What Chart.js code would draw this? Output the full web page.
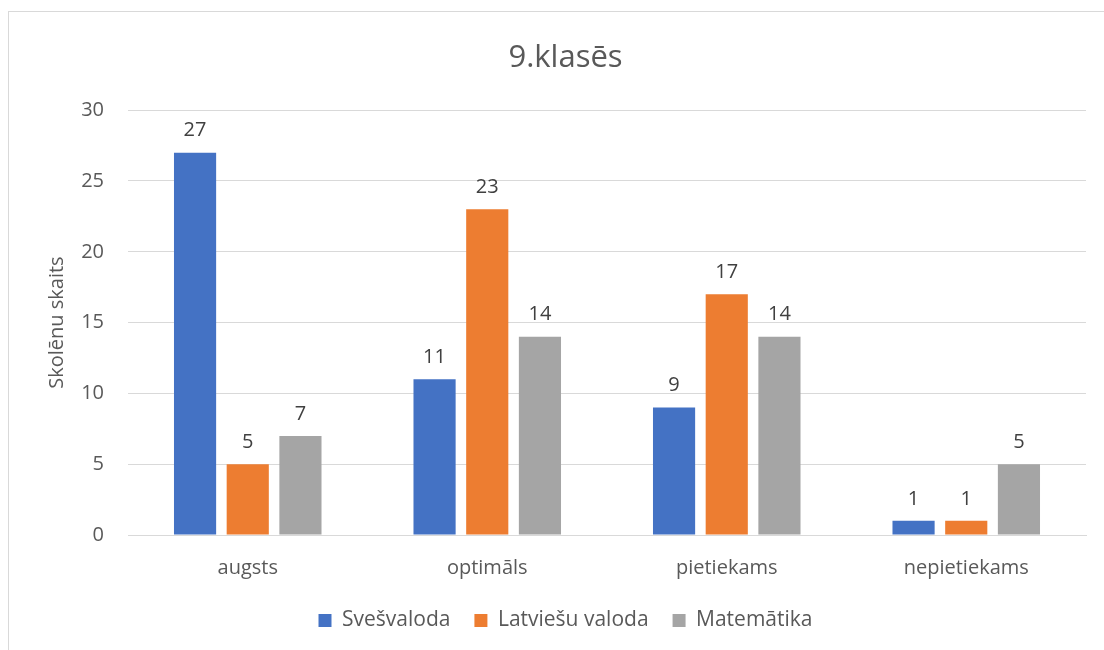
<!DOCTYPE html>
<html>
<head>
<meta charset="utf-8">
<script src="https://cdn.jsdelivr.net/npm/chart.js@4.4.1/dist/chart.umd.min.js"></script>
<style>
  html, body { margin: 0; padding: 0; background: #fff; }
  #wrap { position: relative; width: 1104px; height: 650px; }
  #frame { position: absolute; left: 8px; top: 11px; width: 1200px; height: 700px; border: 1px solid #d9d9d9; }
  canvas { position: absolute; left: 0; top: 0; }
</style>
</head>
<body>
<div id="wrap">
  <div id="frame"></div>
  <canvas id="chart" width="1104" height="650"></canvas>
</div>
<script>
const categories = ["augsts", "optimāls", "pietiekams", "nepietiekams"];
const svesvaloda = [27, 11, 9, 1];
const latviesu = [5, 23, 17, 1];
const matematika = [7, 14, 14, 5];
const yTicks = [0, 5, 10, 15, 20, 25, 30];

const fontFamily = "'Open Sans', 'Liberation Sans', sans-serif";

// value labels above bars
const valueLabels = {
  id: "valueLabels",
  afterDatasetsDraw(chart) {
    const ctx = chart.ctx;
    ctx.save();
    ctx.font = "20px " + fontFamily;
    ctx.fillStyle = "#404040";
    ctx.textAlign = "center";
    ctx.textBaseline = "bottom";
    chart.data.datasets.forEach((ds, i) => {
      chart.getDatasetMeta(i).data.forEach((bar, j) => {
        ctx.fillText(ds.data[j], bar.x, bar.y - 12);
      });
    });
    ctx.restore();
  }
};

new Chart(document.getElementById("chart").getContext("2d"), {
  type: "bar",
  data: {
    labels: categories,
    datasets: [
      { label: "Svešvaloda", data: svesvaloda, backgroundColor: "#4472c4" },
      { label: "Latviešu valoda", data: latviesu, backgroundColor: "#ed7d31" },
      { label: "Matemātika", data: matematika, backgroundColor: "#a5a5a5" }
    ]
  },
  options: {
    responsive: false,
    animation: false,
    categoryPercentage: 0.66,
    barPercentage: 0.8,
    layout: { padding: { left: 45, right: 18, top: 30, bottom: 9 } },
    plugins: {
      title: {
        display: true,
        text: "9.klasēs",
        color: "#595959",
        font: { family: fontFamily, size: 31, weight: "normal" },
        padding: { top: 10, bottom: 33 }
      },
      legend: {
        position: "bottom",
        labels: {
          color: "#595959",
          font: { family: fontFamily, size: 21 },
          boxWidth: 13,
          boxHeight: 13,
          padding: 24
        }
      },
      tooltip: { enabled: false }
    },
    scales: {
      x: {
        afterFit(s) { s.height = 51; },
        grid: { display: false },
        border: { color: "#d9d9d9", width: 1 },
        ticks: { color: "#595959", font: { family: fontFamily, size: 20 }, padding: 13 }
      },
      y: {
        min: 0,
        max: 30,
        afterBuildTicks(s) { s.ticks = yTicks.map(v => ({ value: v })); },
        afterFit(s) { s.width = 83; },
        grid: { color: "#d9d9d9", drawTicks: false },
        border: { display: false },
        ticks: { color: "#595959", font: { family: fontFamily, size: 20 }, padding: 24 },
        title: {
          display: true,
          text: "Skolēnu skaits",
          color: "#595959",
          font: { family: fontFamily, size: 20 },
          padding: 0
        }
      }
    }
  },
  plugins: [valueLabels]
});
</script>
</body>
</html>
